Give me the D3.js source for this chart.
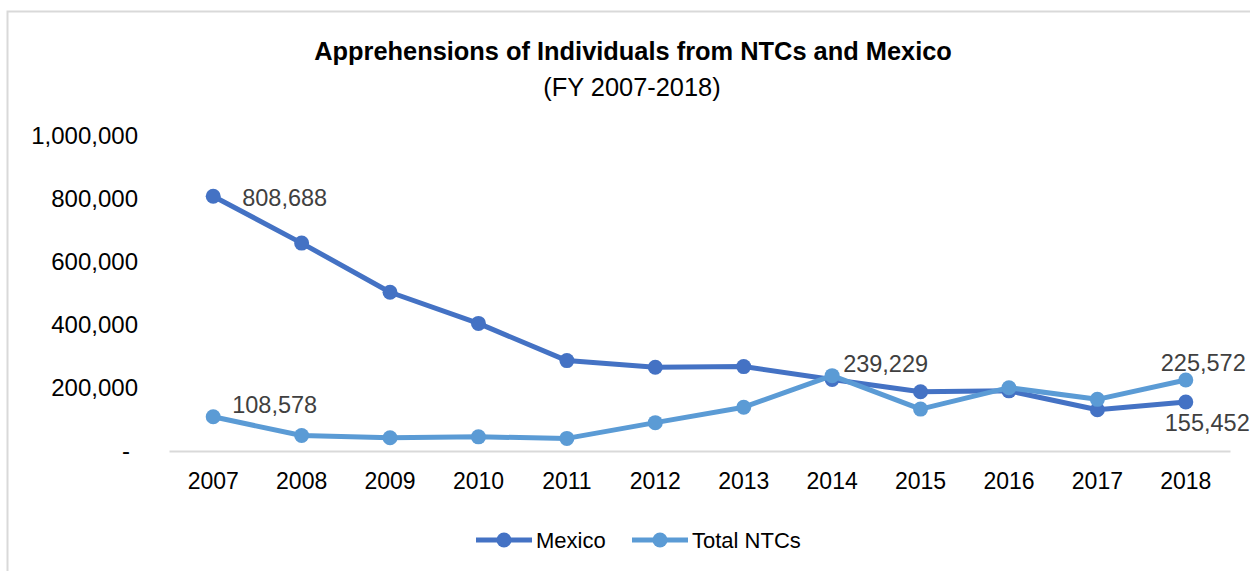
<html>
<head>
<script src="https://d3js.org/d3.v7.min.js"></script>
<style>
  body { margin: 0; background: #fff; }
  svg text { font-family: "Liberation Sans", Arial, sans-serif; }
</style>
</head>
<body>
<svg id="chart" width="1250" height="571"></svg>
<script>
var years = ["2007","2008","2009","2010","2011","2012","2013","2014","2015","2016","2017","2018"];
var mexico = [808688, 660000, 504000, 405000, 287000, 266000, 268000, 227000, 188000, 191000, 131000, 155452];
var ntcs = [108578, 49000, 42000, 45000, 40000, 90000, 139000, 239229, 133000, 201000, 164000, 225572];
var yTicks = [0, 200000, 400000, 600000, 800000, 1000000];
var seriesNames = ["Mexico", "Total NTCs"];
var colors = ["#4472C4", "#5B9BD5"];
// which points carry a value label, and where it sits
var labels = [
  {s: 0, i: 0, pos: "right"},
  {s: 1, i: 0, pos: "aboveRight"},
  {s: 1, i: 7, pos: "aboveRight"},
  {s: 1, i: 11, pos: "above"},
  {s: 0, i: 11, pos: "below"}
];

var svg = d3.select("#chart");
var series = [mexico, ntcs];

// chart border
svg.append("rect").attr("x", 7.5).attr("y", 11.5).attr("width", 1300).attr("height", 700)
  .attr("fill", "none").attr("stroke", "#d9d9d9").attr("stroke-width", 2);

var x = d3.scaleBand().domain(years).range([169, 1230]);
var y = d3.scaleLinear().domain([0, 1000000]).range([451, 136]);
var cx = function(d, i) { return x(years[i]) + x.bandwidth() / 2; };

svg.append("text").attr("x", 633).attr("y", 60).attr("text-anchor", "middle")
  .attr("font-size", 25.4).attr("font-weight", "bold").attr("fill", "#000")
  .text("Apprehensions of Individuals from NTCs and Mexico");
svg.append("text").attr("x", 632).attr("y", 96).attr("text-anchor", "middle")
  .attr("font-size", 25.4).attr("fill", "#000").text("(FY 2007-2018)");

// y axis
var yAxis = svg.append("g").attr("transform", "translate(138,0)")
  .call(d3.axisLeft(y).tickValues(yTicks).tickSize(0).tickPadding(0)
    .tickFormat(function(d) { return d === 0 ? "-" : d3.format(",")(d); }));
yAxis.select(".domain").remove();
yAxis.selectAll("text").attr("font-size", 24).attr("fill", "#000")
  .attr("font-family", "Liberation Sans, Arial, sans-serif");
yAxis.selectAll(".tick text").filter(function(d) { return d === 0; }).attr("dx", -8);

// x axis
var xAxis = svg.append("g").attr("transform", "translate(0,451)")
  .call(d3.axisBottom(x).tickSize(0).tickPadding(22));
xAxis.select(".domain").attr("stroke", "#d9d9d9").attr("stroke-width", 2);
xAxis.selectAll("text").attr("font-size", 23).attr("fill", "#000")
  .attr("font-family", "Liberation Sans, Arial, sans-serif");

var line = d3.line().x(cx).y(function(d) { return y(d); });

series.forEach(function(data, s) {
  var g = svg.append("g");
  g.append("path").datum(data).attr("d", line).attr("fill", "none")
    .attr("stroke", colors[s]).attr("stroke-width", 5).attr("stroke-linejoin", "round");
  g.selectAll("circle").data(data).enter().append("circle")
    .attr("cx", cx).attr("cy", function(d) { return y(d); })
    .attr("r", 7.5).attr("fill", colors[s]);
});

labels.forEach(function(l) {
  var v = series[l.s][l.i];
  var px = cx(v, l.i), py = y(v);
  var t = svg.append("text").attr("font-size", 23.5).attr("fill", "#404040")
    .attr("dominant-baseline", "central").text(d3.format(",")(v));
  if (l.pos === "right") t.attr("x", px + 29).attr("y", py + 2);
  else if (l.pos === "aboveRight") t.attr("x", px + 11 + (l.i === 0 ? 8 : 0)).attr("y", py - 12);
  else if (l.pos === "above") t.attr("x", px - 25).attr("y", py - 17);
  else t.attr("x", px - 21).attr("y", py + 21);
});

// legend
var leg = svg.append("g").attr("transform", "translate(476,540)");
var lx = [0, 156];
seriesNames.forEach(function(n, s) {
  var g = leg.append("g").attr("transform", "translate(" + lx[s] + ",0)");
  g.append("line").attr("x1", 0).attr("x2", 56).attr("stroke", colors[s]).attr("stroke-width", 5);
  g.append("circle").attr("cx", 28).attr("r", 7.5).attr("fill", colors[s]);
  g.append("text").attr("x", 60).attr("font-size", 22).attr("fill", "#000")
    .attr("dominant-baseline", "central").text(n);
});
</script>
</body>
</html>
